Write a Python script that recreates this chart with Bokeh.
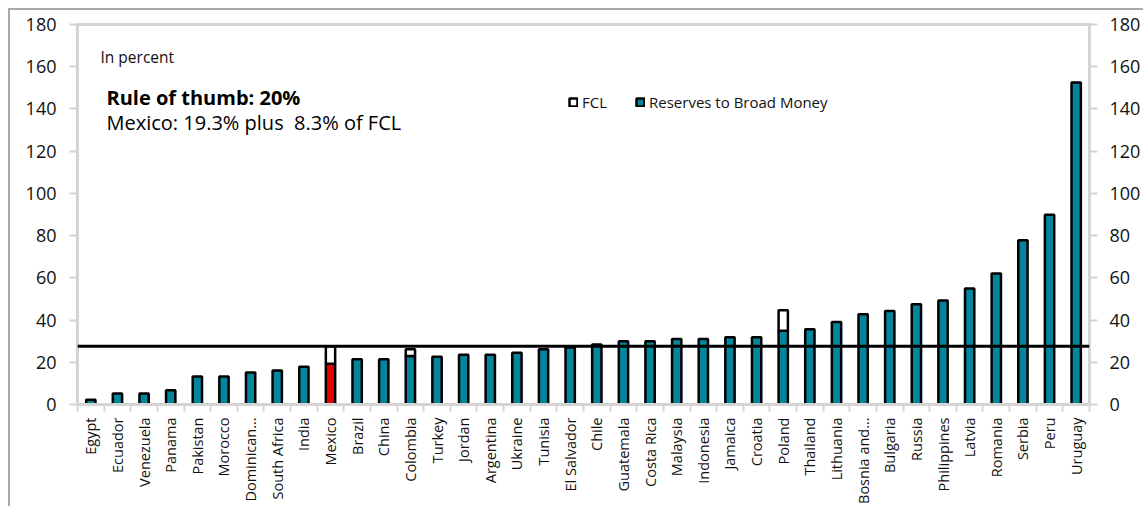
import math
from bokeh.plotting import figure
from bokeh.models import (ColumnDataSource, Range1d, LinearAxis, FixedTicker, Span, Label,
                          Legend, LegendItem)
from bokeh.layouts import column
from bokeh.embed import file_html
from bokeh.resources import INLINE

countries = ["Egypt", "Ecuador", "Venezuela", "Panama", "Pakistan", "Morocco", "Dominican\u2026",
             "South Africa", "India", "Mexico", "Brazil", "China", "Colombia", "Turkey", "Jordan",
             "Argentina", "Ukraine", "Tunisia", "El Salvador", "Chile", "Guatemala", "Costa Rica",
             "Malaysia", "Indonesia", "Jamaica", "Croatia", "Poland", "Thailand", "Lithuania",
             "Bosnia and\u2026", "Bulgaria", "Russia", "Philippines", "Latvia", "Romania", "Serbia",
             "Peru", "Uruguay"]
reserves = [2.3, 5.2, 5.2, 6.8, 13.3, 13.3, 15.2, 16.1, 17.9, 19.3, 21.4, 21.4, 23.0, 22.6, 23.6,
            23.6, 24.5, 26.2, 27.0, 28.4, 30.0, 30.0, 31.0, 31.0, 31.9, 31.9, 34.9, 35.6, 39.1,
            42.7, 44.3, 47.5, 49.3, 54.9, 62.1, 77.8, 89.9, 152.5]
fcl = [0, 0, 0, 0, 0, 0, 0, 0, 0, 8.3, 0, 0, 3.2, 0, 0, 0, 0, 0, 0, 0, 0, 0, 0, 0, 0, 0, 9.7,
       0, 0, 0, 0, 0, 0, 0, 0, 0, 0, 0]
rule_line = 27.6
y_ticks = [0, 20, 40, 60, 80, 100, 120, 140, 160, 180]
highlight = "Mexico"

TEAL = "#03869D"
RED = "#E60000"
GRAY = "#D4D4D4"
FONT = "Open Sans"
TXT = "#111111"

n = len(countries)
idx = list(range(n))
colors = [RED if c == highlight else TEAL for c in countries]
src = ColumnDataSource(dict(x=idx, top=reserves, color=colors, name=countries))
fx = [i for i, f in zip(idx, fcl) if f > 0]
fb = [r for r, f in zip(reserves, fcl) if f > 0]
ft = [r + f for r, f in zip(reserves, fcl) if f > 0]
fsrc = ColumnDataSource(dict(x=fx, bottom=fb, top=ft))

p = figure(width=1133, height=496, x_range=Range1d(-0.5, n - 0.5), y_range=Range1d(0, 180),
           output_backend="svg", toolbar_location=None, x_axis_location=None,
           min_border_left=67, min_border_right=51, min_border_top=14, min_border_bottom=102)
p.grid.visible = False
p.outline_line_color = GRAY
p.outline_line_width = 3
p.background_fill_color = "white"

r_res = p.vbar(x="x", top="top", bottom=0, width=0.35, source=src, fill_color="color",
               line_color="black", line_width=2.5)
r_fcl = p.vbar(x="x", top="top", bottom="bottom", width=0.35, source=fsrc, fill_color="white",
               line_color="black", line_width=2.5)

p.add_layout(Span(location=rule_line, dimension="width", line_color="black", line_width=3))

def style_y(ax):
    ax.ticker = FixedTicker(ticks=y_ticks)
    ax.axis_line_color = GRAY
    ax.axis_line_width = 3
    ax.major_tick_line_color = GRAY
    ax.major_tick_line_width = 2
    ax.major_tick_out = 8
    ax.major_tick_in = 0
    ax.minor_tick_line_color = None
    ax.major_label_text_font = FONT
    ax.major_label_text_font_size = "18px"
    ax.major_label_text_color = TXT
    ax.major_label_standoff = 13

style_y(p.yaxis[0])
ry = LinearAxis()
style_y(ry)
ry.major_label_standoff = 12
p.add_layout(ry, "right")

# category labels at centres, boundary ticks as minor ticks
cat_ax = LinearAxis(ticker=FixedTicker(ticks=idx, minor_ticks=[i - 0.5 for i in range(n + 1)]),
                    major_label_overrides={i: c for i, c in zip(idx, countries)})
cat_ax.axis_line_color = GRAY
cat_ax.axis_line_width = 3
cat_ax.major_tick_line_color = None
cat_ax.major_tick_out = 0
cat_ax.major_tick_in = 0
cat_ax.minor_tick_line_color = GRAY
cat_ax.minor_tick_line_width = 2
cat_ax.minor_tick_out = 7
cat_ax.minor_tick_in = 0
cat_ax.major_label_orientation = math.pi / 2
cat_ax.major_label_text_font = FONT
cat_ax.major_label_text_font_size = "14.5px"
cat_ax.major_label_text_color = TXT
cat_ax.major_label_standoff = 6
p.add_layout(cat_ax, "below")

p.add_layout(Label(x=23, y=348, x_units="screen", y_units="screen", text="In percent",
                   text_font=FONT, text_font_size="15.5px", text_baseline="middle", text_color=TXT))
p.add_layout(Label(x=29, y=307, x_units="screen", y_units="screen", text="Rule of thumb: 20%",
                   text_font=FONT, text_font_size="20px", text_font_style="bold",
                   text_baseline="middle", text_color="#000000"))
p.add_layout(Label(x=29, y=282, x_units="screen", y_units="screen",
                   text="Mexico: 19.3% plus \u00a08.3% of FCL",
                   text_font=FONT, text_font_size="20px", text_baseline="middle", text_color="#000000"))

legend = Legend(items=[LegendItem(label="FCL", renderers=[r_fcl]),
                       LegendItem(label="Reserves to Broad Money", renderers=[r_res], index=0)],
                location=(491, 292), orientation="horizontal",
                glyph_width=10, glyph_height=10, label_standoff=4, spacing=28,
                padding=0, margin=0, border_line_color=None, background_fill_alpha=0,
                label_text_font=FONT, label_text_font_size="15px", label_text_color=TXT)
p.add_layout(legend, "center")

layout = column(p, styles={"margin-left": "8px", "margin-top": "8px",
                           "border-left": "2px solid #A8A8A8", "border-top": "2px solid #A8A8A8"})

open("out.html", "w").write(file_html(layout, INLINE))
